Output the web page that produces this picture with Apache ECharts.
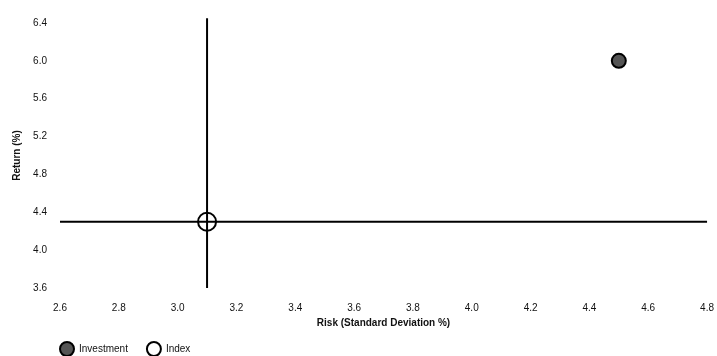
<!DOCTYPE html>
<html>
<head>
<meta charset="utf-8">
<script src="https://cdn.jsdelivr.net/npm/echarts@6/dist/echarts.min.js"></script>
<style>html,body{margin:0;padding:0;background:#fff;}#c{width:717px;height:356px;}</style>
</head>
<body>
<div id="c"></div>
<script>
// Data
const seriesNames = ['Investment', 'Index'];
const investmentPoint = [4.5, 6.0];   // [risk, return]
const indexPoint = [3.1, 4.3];
const horizontalLineX = [2.6, 4.8];   // at return = indexPoint[1]
const verticalLineY = [3.6, 6.45];    // at risk = indexPoint[0]
const xAxisName = 'Risk (Standard Deviation %)';
const yAxisName = 'Return (%)';

const font = 'Liberation Sans, Arial, sans-serif';
const chart = echarts.init(document.getElementById('c'), null, {renderer: 'canvas'});
chart.setOption({
  animation: false,
  backgroundColor: '#fff',
  grid: {left: 60, right: 9, top: 23, bottom: 68},
  xAxis: {
    type: 'value', min: 2.6, max: 4.8, interval: 0.2,
    name: xAxisName, nameLocation: 'middle', nameGap: 27,
    nameTextStyle: {fontFamily: font, fontSize: 10, fontWeight: 'bold', color: '#111'},
    axisLine: {show: false}, axisTick: {show: false}, splitLine: {show: false},
    axisLabel: {fontFamily: font, fontSize: 10, color: '#111', margin: 15,
      formatter: v => v.toFixed(1)}
  },
  yAxis: {
    type: 'value', min: 3.6, max: 6.4, interval: 0.4,
    name: yAxisName, nameLocation: 'middle', nameGap: 33, nameRotate: 90,
    nameTextStyle: {fontFamily: font, fontSize: 10, fontWeight: 'bold', color: '#111'},
    axisLine: {show: false}, axisTick: {show: false}, splitLine: {show: false},
    axisLabel: {fontFamily: font, fontSize: 10, color: '#111', margin: 13,
      formatter: v => v.toFixed(1)}
  },
  legend: {
    data: seriesNames, left: 54, top: 336, itemWidth: 14, itemHeight: 14, itemGap: 18,
    textStyle: {fontFamily: font, fontSize: 10, color: '#111'}
  },
  series: [
    {
      type: 'line', name: 'hline', silent: true, symbol: 'none', clip: false,
      lineStyle: {color: '#000', width: 2},
      data: horizontalLineX.map(x => [x, indexPoint[1]]), z: 1
    },
    {
      type: 'line', name: 'vline', silent: true, symbol: 'none', clip: false,
      lineStyle: {color: '#000', width: 2},
      data: verticalLineY.map(y => [indexPoint[0], y]), z: 1
    },
    {
      type: 'scatter', name: seriesNames[0], symbol: 'circle', symbolSize: 14,
      itemStyle: {color: '#555', borderColor: '#000', borderWidth: 2, opacity: 1},
      data: [investmentPoint], z: 3
    },
    {
      type: 'scatter', name: seriesNames[1], symbol: 'circle', symbolSize: 18,
      itemStyle: {color: 'rgba(255,255,255,0)', borderColor: '#000', borderWidth: 2, opacity: 1},
      data: [indexPoint], z: 3
    }
  ]
});
</script>
</body>
</html>
